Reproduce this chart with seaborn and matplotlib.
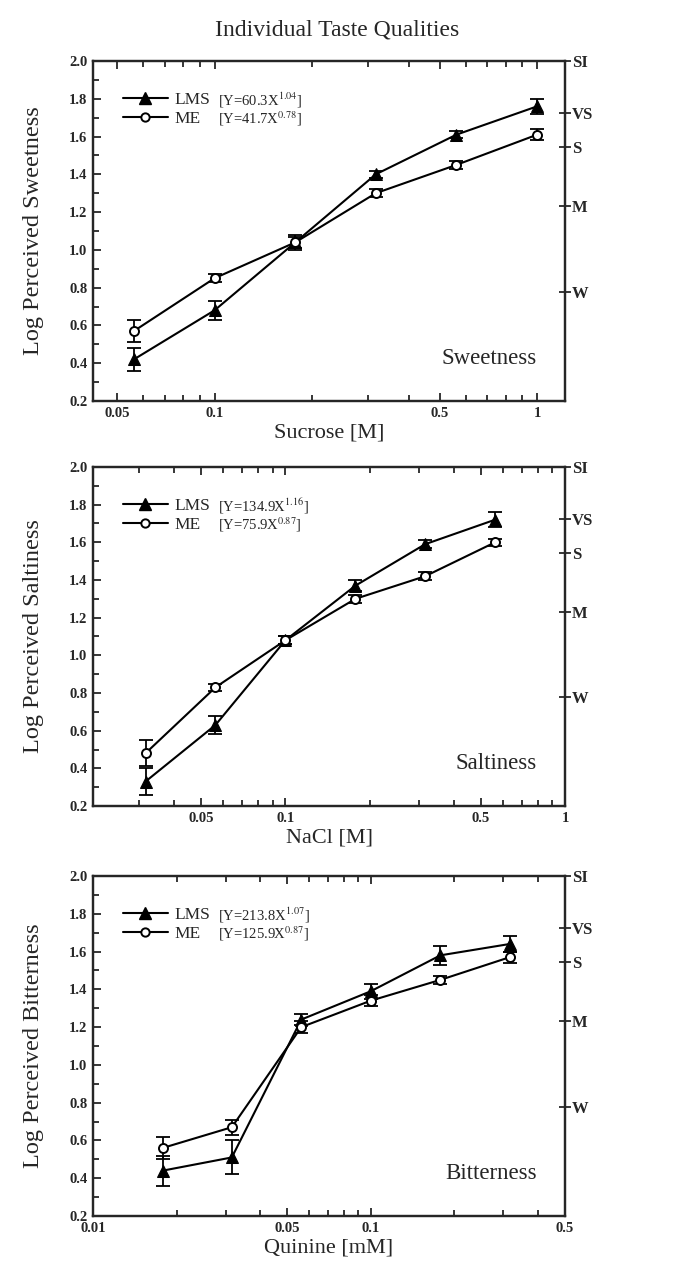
import numpy as np
import pandas as pd
import matplotlib
matplotlib.use("Agg")
import matplotlib.pyplot as plt
import seaborn as sns
from matplotlib.lines import Line2D
from matplotlib.ticker import (FixedLocator, FixedFormatter, NullFormatter,
                               LogLocator, MultipleLocator, FormatStrFormatter)

# ---------------- data ----------------
sucrose_M = [0.0562, 0.1, 0.178, 0.316, 0.562, 1.0]
sweet_lms = [0.42, 0.68, 1.04, 1.40, 1.61, 1.76]
sweet_lms_err = [0.06, 0.05, 0.03, 0.02, 0.02, 0.04]
sweet_me = [0.57, 0.85, 1.04, 1.30, 1.45, 1.61]
sweet_me_err = [0.06, 0.02, 0.04, 0.02, 0.02, 0.03]

nacl_M = [0.0316, 0.0562, 0.1, 0.178, 0.316, 0.562]
salt_lms = [0.33, 0.63, 1.08, 1.37, 1.59, 1.72]
salt_lms_err = [0.07, 0.05, 0.02, 0.03, 0.02, 0.04]
salt_me = [0.48, 0.83, 1.08, 1.30, 1.42, 1.60]
salt_me_err = [0.07, 0.02, 0.02, 0.02, 0.02, 0.02]

quinine_mM = [0.0178, 0.0316, 0.0562, 0.1, 0.178, 0.316]
bitter_lms = [0.44, 0.51, 1.24, 1.39, 1.58, 1.64]
bitter_lms_err = [0.08, 0.09, 0.03, 0.04, 0.05, 0.04]
bitter_me = [0.56, 0.67, 1.20, 1.34, 1.45, 1.57]
bitter_me_err = [0.06, 0.04, 0.03, 0.03, 0.02, 0.03]

sweet_xticks = [0.05, 0.1, 0.5, 1]
sweet_xticklabels = ["0.05", "0.1", "0.5", "1"]
salt_xticks = [0.02, 0.05, 0.1, 0.5, 1]
salt_xticklabels = ["0.02", "0.05", "0.1", "0.5", "1"]
bitter_xticks = [0.01, 0.05, 0.1, 0.5]
bitter_xticklabels = ["0.01", "0.05", "0.1", "0.5"]

lms_scale_pos = [2.0, 1.724, 1.544, 1.230, 0.778]
lms_scale_labels = ["SI", "VS", "S", "M", "W"]

sweet_eq = [r"[Y=60.3X$^{1.04}$]", r"[Y=41.7X$^{0.78}$]"]
salt_eq = [r"[Y=134.9X$^{1.16}$]", r"[Y=75.9X$^{0.87}$]"]
bitter_eq = [r"[Y=213.8X$^{1.07}$]", r"[Y=125.9X$^{0.87}$]"]

# ---------------- style ----------------
sns.set_style("ticks")
plt.rcParams["font.family"] = ["Liberation Serif", "DejaVu Serif"]
plt.rcParams["mathtext.fontset"] = "stix"
plt.rcParams["axes.linewidth"] = 1.6

W, H = 675, 1262
fig = plt.figure(figsize=(W / 100, H / 100), dpi=100)

panels = [
    dict(x=sucrose_M, lms=sweet_lms, lms_e=sweet_lms_err, me=sweet_me, me_e=sweet_me_err,
         xlim=(0.042, 1.22), xt=sweet_xticks, xtl=sweet_xticklabels, eq=sweet_eq,
         xlabel="Sucrose [M]", ylabel="Log Perceived Sweetness", name="Sweetness",
         top=61, bottom=401),
    dict(x=nacl_M, lms=salt_lms, lms_e=salt_lms_err, me=salt_me, me_e=salt_me_err,
         xlim=(0.0205, 1.0), xt=salt_xticks, xtl=salt_xticklabels, eq=salt_eq,
         xlabel="NaCl [M]", ylabel="Log Perceived Saltiness", name="Saltiness",
         top=467, bottom=806),
    dict(x=quinine_mM, lms=bitter_lms, lms_e=bitter_lms_err, me=bitter_me, me_e=bitter_me_err,
         xlim=(0.01, 0.5), xt=bitter_xticks, xtl=bitter_xticklabels, eq=bitter_eq,
         xlabel="Quinine [mM]", ylabel="Log Perceived Bitterness", name="Bitterness",
         top=876, bottom=1216),
]

left_px, right_px = 93, 565
for p in panels:
    ax = fig.add_axes([left_px / W, 1 - p["bottom"] / H,
                       (right_px - left_px) / W, (p["bottom"] - p["top"]) / H])
    df = pd.DataFrame({"conc": p["x"], "LMS": p["lms"], "ME": p["me"]})

    ax.errorbar(df["conc"], df["LMS"], yerr=p["lms_e"], fmt="none", ecolor="black",
                elinewidth=1.3, capsize=5, capthick=1.3, zorder=2)
    ax.errorbar(df["conc"], df["ME"], yerr=p["me_e"], fmt="none", ecolor="black",
                elinewidth=1.3, capsize=5, capthick=1.3, zorder=2)
    sns.lineplot(data=df, x="conc", y="LMS", ax=ax, color="black", marker="^",
                 markersize=9, markerfacecolor="black", markeredgecolor="black",
                 linewidth=1.5, zorder=3)
    sns.lineplot(data=df, x="conc", y="ME", ax=ax, color="black", marker="o",
                 markersize=6.5, markerfacecolor="white", markeredgecolor="black",
                 markeredgewidth=1.4, linewidth=1.5, zorder=4)

    ax.set_xscale("log")
    ax.set_xlim(*p["xlim"])
    ax.set_ylim(0.2, 2.0)

    ax.xaxis.set_major_locator(FixedLocator(p["xt"]))
    ax.xaxis.set_major_formatter(FixedFormatter(p["xtl"]))
    ax.xaxis.set_minor_locator(LogLocator(base=10, subs=np.arange(2, 10)))
    ax.xaxis.set_minor_formatter(NullFormatter())
    ax.yaxis.set_major_locator(MultipleLocator(0.2))
    ax.yaxis.set_major_formatter(FormatStrFormatter("%.1f"))
    ax.yaxis.set_minor_locator(MultipleLocator(0.1))

    ax.tick_params(which="both", direction="in", top=True, right=True, width=1.3)
    ax.tick_params(which="major", length=6, labelsize=10.5, pad=4)
    ax.tick_params(which="minor", length=4)
    for t in ax.get_xticklabels() + ax.get_yticklabels():
        t.set_fontweight("bold")

    ax.set_xlabel(p["xlabel"], fontsize=16, labelpad=3)
    ax.set_ylabel(p["ylabel"], fontsize=17.5, labelpad=18)

    ax.text(0.94, 0.126, p["name"], transform=ax.transAxes, ha="right", va="center",
            fontsize=16.5)

    handles = [
        Line2D([], [], color="black", lw=1.5, marker="^", markersize=8,
               markerfacecolor="black"),
        Line2D([], [], color="black", lw=1.5, marker="o", markersize=6,
               markerfacecolor="white", markeredgewidth=1.4),
    ]
    leg = ax.legend(handles, ["LMS", "ME"], loc="upper left",
                    bbox_to_anchor=(0.048, 0.93), frameon=False, fontsize=12.5,
                    handlelength=2.6, handletextpad=0.4, labelspacing=0.15,
                    borderaxespad=0)
    for txt, eq in zip(leg.get_texts(), p["eq"]):
        ax.annotate(eq, xy=(0.265, 0.5), xycoords=(ax.transAxes, txt),
                    ha="left", va="center", fontsize=10.5)

    ax2 = ax.twinx()
    ax2.set_ylim(0.2, 2.0)
    ax2.yaxis.set_major_locator(FixedLocator(lms_scale_pos))
    ax2.yaxis.set_major_formatter(FixedFormatter(lms_scale_labels))
    ax2.yaxis.set_minor_locator(FixedLocator([]))
    ax2.tick_params(axis="y", direction="inout", length=8, width=1.3, pad=1,
                    labelsize=12)
    for t in ax2.get_yticklabels():
        t.set_fontweight("bold")

fig.text(0.5, 1 - 30 / H, "Individual Taste Qualities", ha="center", va="center",
         fontsize=17)

fig.canvas.draw()
fig.savefig("out.png", dpi=100)
